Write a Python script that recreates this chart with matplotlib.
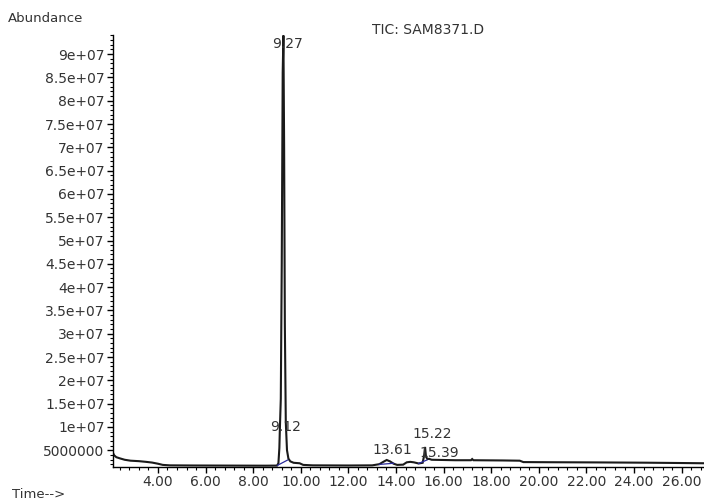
import numpy as np
import matplotlib
matplotlib.use("Agg")
import matplotlib.pyplot as plt
from matplotlib.ticker import MultipleLocator, FuncFormatter

# chromatogram trace (time in min, abundance)
times = [2.11, 2.16, 2.25, 2.40, 2.60, 2.85, 3.20, 3.50, 3.75, 4.00, 4.20, 4.50,
         5.50, 7.00, 8.50, 9.00, 9.06, 9.10, 9.12, 9.16, 9.20, 9.24, 9.27, 9.30,
         9.33, 9.37, 9.42, 9.48, 9.56, 9.70, 9.95, 10.10, 10.50, 12.00, 13.00,
         13.30, 13.50, 13.61, 13.75, 13.90, 14.05, 14.30, 14.45, 14.60, 14.75,
         14.95, 15.12, 15.18, 15.22, 15.26, 15.32, 15.39, 15.50, 16.50, 17.15,
         17.20, 17.25, 18.50, 19.20, 19.35, 20.50, 22.50, 24.50, 26.00, 26.94]
abundance = [4.4e6, 3.9e6, 3.5e6, 3.25e6, 2.95e6, 2.75e6, 2.65e6, 2.5e6, 2.35e6,
             2.1e6, 1.85e6, 1.75e6, 1.72e6, 1.7e6, 1.68e6, 1.7e6, 2.2e6, 5.5e6,
             9.4e6, 1.6e7, 4.5e7, 8.6e7, 9.4e7, 7.0e7, 3.2e7, 1.1e7, 5.0e6, 3.2e6,
             2.6e6, 2.3e6, 2.2e6, 1.85e6, 1.75e6, 1.72e6, 1.75e6, 2.0e6, 2.6e6,
             2.9e6, 2.6e6, 2.1e6, 1.85e6, 1.9e6, 2.4e6, 2.5e6, 2.4e6, 2.15e6,
             2.3e6, 3.8e6, 5.7e6, 3.6e6, 3.1e6, 3.15e6, 2.95e6, 2.85e6, 2.85e6,
             3.1e6, 2.85e6, 2.8e6, 2.75e6, 2.45e6, 2.42e6, 2.38e6, 2.32e6, 2.25e6,
             2.2e6]

# labelled peaks
peak_labels = ["9.27", "9.12", "13.61", "15.22", "15.39"]
peak_times = [9.27, 9.12, 13.61, 15.22, 15.39]
peak_heights = [9.4e7, 9.4e6, 2.9e6, 5.7e6, 3.15e6]

# integration baselines (blue)
base_t = [[9.02, 9.45], [13.30, 13.90], [14.95, 15.30]]
base_a = [[1.75e6, 2.9e6], [1.95e6, 2.2e6], [2.15e6, 2.9e6]]

txt = "#333333"
plt.rcParams["font.family"] = ["DejaVu Sans"]

fig = plt.figure(figsize=(7.04, 5.03), dpi=100)
ax = fig.add_axes([0.1605, 0.0716, 0.8395, 0.8588])

ax.plot(times, abundance, color="#1a1a1a", lw=1.5, solid_joinstyle="miter")
for bt, ba in zip(base_t, base_a):
    ax.plot(bt, ba, color="#2b2b9c", lw=0.9)

ax.set_xlim(2.11, 26.94)
ax.set_ylim(1.4e6, 9.41e7)

# label offsets in points
offsets = {"9.27": (3, -1, "top"), "9.12": (4, -3, "bottom"),
           "13.61": (4, 2, "bottom"), "15.22": (5, 4, "bottom"),
           "15.39": (7, -1, "bottom")}
for lab, t, h in zip(peak_labels, peak_times, peak_heights):
    dx, dy, va = offsets[lab]
    ax.annotate(lab, (t, h), xytext=(dx, dy), textcoords="offset points",
                ha="center", va=va, fontsize=10, color=txt)

for s in ["top", "right"]:
    ax.spines[s].set_visible(False)
for s in ["left", "bottom"]:
    ax.spines[s].set_linewidth(1.0)

ax.xaxis.set_major_locator(MultipleLocator(2))
ax.xaxis.set_minor_locator(MultipleLocator(0.4))
ax.xaxis.set_major_formatter(FuncFormatter(lambda v, p: "%.2f" % v))
ax.yaxis.set_major_locator(MultipleLocator(5e6))
ax.yaxis.set_minor_locator(MultipleLocator(1e6))
ax.yaxis.set_major_formatter(
    FuncFormatter(lambda v, p: ("%g" % v) if v >= 1e7 else "%d" % v))

ax.tick_params(axis="both", which="major", length=4, width=1, labelsize=10,
               labelcolor=txt, pad=2)
ax.tick_params(axis="both", which="minor", length=2.5, width=0.8)

fig.text(8 / 704, 1 - 18 / 503, "Abundance", fontsize=9.5, color=txt,
         ha="left", va="center")
fig.text(12 / 704, 1 - 495 / 503, "Time-->", fontsize=9.5, color=txt,
         ha="left", va="center")
fig.text(428 / 704, 1 - 30 / 503, "TIC: SAM8371.D", fontsize=10, color=txt,
         ha="center", va="center")

fig.savefig("out.png", dpi=100)
